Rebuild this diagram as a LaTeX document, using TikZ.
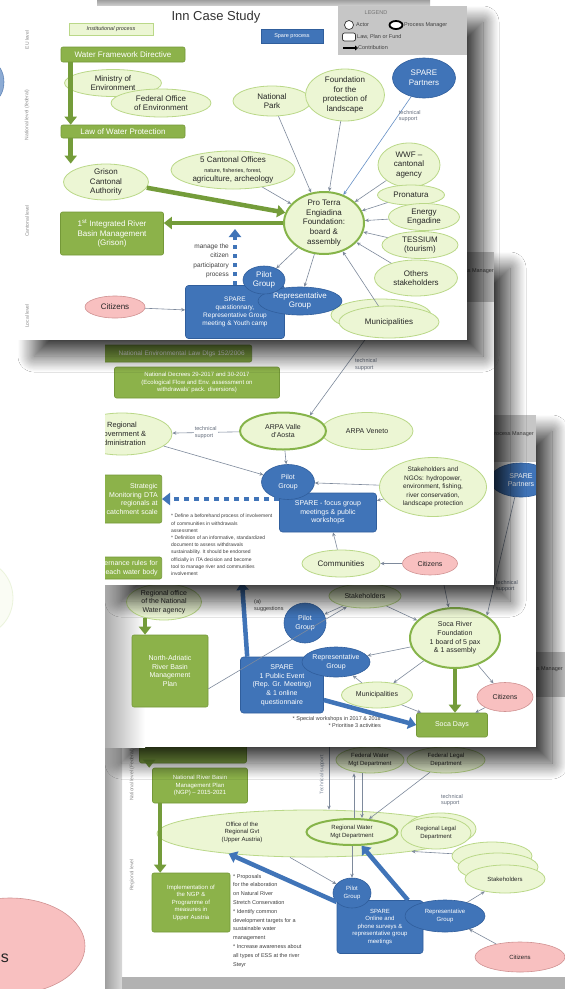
\documentclass[tikz,border=0pt]{standalone}
\usepackage{fontspec}
\setmainfont{Liberation Sans}
\usetikzlibrary{shapes.geometric,arrows.meta,shadows.blur}

\definecolor{lawgreen}{RGB}{140,178,74}
\definecolor{lawedge}{RGB}{116,152,56}
\definecolor{actfill}{RGB}{236,246,212}
\definecolor{actedge}{RGB}{186,216,136}
\definecolor{mgredge}{RGB}{134,180,74}
\definecolor{spareblue}{RGB}{64,116,184}
\definecolor{spareedge}{RGB}{48,94,156}
\definecolor{citfill}{RGB}{248,192,192}
\definecolor{citedge}{RGB}{208,146,146}
\definecolor{linkgray}{RGB}{126,138,156}
\definecolor{arrgreen}{RGB}{116,156,58}
\definecolor{lvlgray}{RGB}{140,140,140}
\definecolor{legendgray}{RGB}{198,198,198}

\tikzset{
  dims/.style 2 args={minimum width=#1pt, minimum height=#2pt},
  actor/.style={ellipse, draw=actedge, fill=actfill, line width=0.8pt, inner xsep=-2pt, inner ysep=-4pt, align=center, text=black!85},
  manager/.style={actor, draw=mgredge, line width=2pt},
  spareactor/.style={ellipse, draw=spareedge, fill=spareblue, line width=0.6pt, inner xsep=-2pt, inner ysep=-4pt, align=center, text=white},
  citizen/.style={ellipse, draw=citedge, fill=citfill, line width=0.6pt, inner sep=0pt, align=center, text=black!85},
  law/.style={rectangle, rounded corners=2pt, draw=lawedge, fill=lawgreen, line width=0.6pt, inner sep=1pt, align=center, text=white},
  spare/.style={rectangle, rounded corners=3pt, draw=spareedge, fill=spareblue, line width=0.6pt, inner sep=1pt, align=center, text=white},
  link/.style={draw=linkgray, line width=0.6pt, -{Stealth[length=4pt,width=3.5pt]}},
  biggreen/.style={draw=arrgreen, line width=4.5pt, -{Triangle[length=8pt,width=12pt]}},
  bigblue/.style={draw=spareblue, line width=4.5pt, -{Triangle[length=8pt,width=12pt]}},
  lvl/.style={rotate=90, text=lvlgray, font=\fontsize{5}{6}\selectfont},
  note/.style={align=left, inner sep=0pt, text=black!75, font=\fontsize{5.5}{7.5}\selectfont},
  supp/.style={align=left, inner sep=0pt, text=linkgray!80!black, font=\fontsize{5.5}{6.5}\selectfont},
  legtxt/.style={anchor=west, inner sep=0pt, text=black!75, font=\fontsize{5.5}{6}\selectfont},
  slide/.style={fill=white, blur shadow={shadow xshift=16pt, shadow yshift=-16pt, shadow blur radius=16pt, shadow blur steps=30, shadow blur extra rounding=0pt, shadow opacity=75}},
}

\begin{document}
\begin{tikzpicture}[x=1pt,y=-1pt]
\fill[white, use as bounding box] (0,0) rectangle (565,989);

% what shows of the slides behind
\node[citizen, dims={150}{96}] (bigCit) at (10,946) {};
\node[font=\fontsize{16}{16}\selectfont, text=black!85] (bigCitTxt) at (5,958) {s};
\node[actor, dims={70}{75}, opacity=0.25] (bigActor) at (-22,598) {};
\node[spareactor, dims={24}{38}, opacity=0.6] (bigSpare) at (-8,82) {};
\shade[top color=gray!75, bottom color=gray!35] (97,0) rectangle (430,6);

% Upper Austria
\path[slide] (105,652) rectangle (575,995);
\shade[left color=gray!75, right color=gray!30] (105,652) rectangle (122,989);
\fill[gray!60] (122,977) rectangle (575,989);
\begin{scope}[font=\fontsize{6}{7.5}\selectfont]
\clip (122,652) rectangle (575,977);
\node[fill=legendgray, anchor=north east, dims={100}{45}, inner sep=0pt] (austLegend) at (575,652) {};
\node[legtxt, anchor=east] (austLegendTxt) at (563,669) {Process Manager};
\node[lvl] (austNat) at (132,775) {National level (Federal)};
\node[lvl] (austReg) at (132,875) {Regional level};
\node[law, dims={107}{30}] (austTop) at (193,748) {};
\node[law, dims={95}{35}] (NGP) at (200,785.5) {National River Basin\\Management Plan\\(NGP) – 2015-2021};
\node[law, dims={78}{59}] (ImplNGP) at (191,902.5) {Implementation of\\the NGP \&\\Programme of\\measures in\\Upper Austria};
\node[actor, dims={306}{47}] (OfficeGvt) at (310,833.5) {};
\node[align=center, text=black!85] (OfficeTxt) at (242,832) {Office of the\\Regional Gvt\\(Upper Austria)};
\node[actor, dims={68}{26}] (FedWater) at (370,760) {Federal Water\\Mgt Department};
\node[actor, dims={78}{26}] (FedLegal) at (446,760) {Federal Legal\\Department};
\node[manager, dims={91}{26}] (RegWater) at (352,832) {Regional Water\\Mgt Department};
\node[actor, dims={70}{32}] (RegLegalBack) at (441,829) {};
\node[actor, dims={70}{32}] (RegLegal) at (436,833) {Regional Legal\\Department};
\node[actor, dims={80}{28}] (StakeD1) at (492,856) {};
\node[actor, dims={80}{28}] (StakeD2) at (498,867) {};
\node[actor, dims={80}{28}] (StakeD) at (505,879) {Stakeholders};
\node[spare, dims={86}{53}] (SpareOnline) at (380,927) {SPARE\\Online and\\phone surveys \&\\representative group\\meetings};
\node[spareactor, dims={38}{30}] (PilotD) at (352,893) {Pilot\\Group};
\node[spareactor, dims={80}{32}] (RepD) at (445,916) {Representative\\Group};
\node[citizen, dims={90}{30}] (CitizensD) at (520,957) {Citizens};
\node[note, anchor=north west, font=\fontsize{5.5}{8.8}\selectfont] (ProposalNote) at (233,874) {* Proposals\\for the elaboration\\on Natural River\\Stretch Conservation\\* Identify common\\development targets for a\\sustainable water\\management\\* Increase awareness about\\all types of ESS at the river\\Steyr};
\coordinate (techTop) at (329,740);
\node[lvl, text=linkgray] (techLbl) at (322,775) {Technical support};
\node[supp] (austSupp) at (452,800) {technical\\support};
\draw[biggreen] ([xshift=10pt]austTop.south west) -- ([xshift=10pt]austTop.south west |- NGP.north);
\draw[biggreen] ([xshift=8pt]NGP.south west) -- ([xshift=8pt]NGP.south west |- ImplNGP.north);
\draw[bigblue] (SpareOnline.150) -- (OfficeGvt.194);
\draw[bigblue] ([xshift=28pt]SpareOnline.north) -- (RegWater.-55);
\draw[link] (techTop) -- (techTop |- OfficeGvt.north);
\draw[link] ([xshift=-8pt]FedWater.south) -- ([xshift=-8pt]FedWater.south |- RegWater.north);
\draw[link] ([xshift=2pt]RegWater.north) -- ([xshift=2pt]RegWater.north |- FedWater.south);
\draw (FedLegal) edge[link] (RegWater);
\draw (RegWater) edge[link] (PilotD);
\draw ([xshift=-20pt]OfficeGvt.south) edge[link] (PilotD);
\draw (StakeD1) edge[link] (OfficeGvt.-10);
\draw (CitizensD) edge[link] (RepD);
\draw (RepD) edge[link] (StakeD);
\end{scope}

% Soca
\path[slide] (105,415) rectangle (536,747);
\shade[left color=gray!65, right color=white] (105,415) rectangle (145,747);
\begin{scope}[font=\fontsize{7}{8.7}\selectfont]
\clip (105,415) rectangle (536,747);
\node[fill=legendgray, anchor=north east, dims={110}{47}, inner sep=0pt] (socaLegend) at (536,415) {};
\node[legtxt, anchor=east] (socaLegendTxt) at (534,434) {Process Manager};
\node[spareactor, dims={62}{34}] (SpPartnersC) at (521,480) {SPARE\\Partners};
\node[actor, dims={75}{36}] (RegOffice) at (164,602) {Regional office\\of the National\\Water agency};
\node[law, dims={76}{72}] (NAdriatic) at (170,671) {North-Adriatic\\River Basin\\Management\\Plan};
\node[actor, dims={72}{24}] (StakeC) at (365,596) {Stakeholders};
\node[note, anchor=north west] (SuggNote) at (254,599) {(a)\\suggestions};
\node[spare, dims={83}{56}] (SparePE) at (282,685) {SPARE\\1 Public Event\\(Rep. Gr. Meeting)\\\& 1 online\\questionnaire};
\node[spareactor, dims={68}{30}] (RepC) at (336,662) {Representative\\Group};
\node[spareactor, dims={42}{40}] (PilotC) at (305,623) {Pilot\\Group};
\node[manager, dims={90}{60}] (SocaFound) at (455,638) {Soca River\\Foundation\\1 board of 5 pax\\\& 1 assembly};
\node[actor, dims={71}{26}] (MunC) at (377,695) {Municipalities};
\node[citizen, dims={56}{29}] (CitizensC) at (505,697) {Citizens};
\node[law, dims={71}{24}] (SocaDays) at (452,725) {Soca Days};
\node[note, align=right, anchor=north east] (WorkNote) at (381,716) {* Special workshops in 2017 \& 2018\\* Prioritise 3 activities};
\coordinate (socaTop) at (444,585);
\coordinate (suggTip) at (242,582);
\draw (NAdriatic.-25) edge[link] (StakeC);
\draw (StakeC) edge[link] (PilotC);
\draw (StakeC) edge[link] (SocaFound);
\draw (socaTop) edge[link] (SocaFound);
\draw (SpPartnersC.250) edge[link] node[pos=0.75, right=2pt, supp] {technical\\support} (SocaFound.35);
\draw (SocaFound) edge[link] (RepC);
\draw (SocaFound) edge[link] (MunC);
\draw (MunC) edge[link] (RepC);
\draw (MunC) edge[link] (SocaDays);
\draw (CitizensC) edge[link] (SocaDays);
\draw (SocaFound) edge[link] (CitizensC);
\draw[biggreen] (RegOffice.220) -- (RegOffice.220 |- NAdriatic.north);
\draw[bigblue] ([xshift=7pt]SparePE.north west) -- (suggTip);
\draw[bigblue] ([yshift=-15pt]SparePE.east) -- (SocaDays.west);
\draw[biggreen] (SocaFound.south) -- (SocaFound.south |- SocaDays.north);
\end{scope}

% Valle d'Aosta
\path[slide] (105,252) rectangle (494,585);
\begin{scope}[font=\fontsize{7}{8.5}\selectfont]
\clip (105,252) rectangle (494,585);
\node[fill=legendgray, anchor=north east, dims={120}{50}, inner sep=0pt] (arpaLegend) at (494,252) {};
\node[legtxt, anchor=east] (arpaLegendTxt) at (494,271) {Process Manager};
\node[law, anchor=east, dims={200}{17}, text width=186pt, align=right, font=\fontsize{6.5}{7.5}\selectfont] (EnvLaw) at (252,353.5) {National Environmental Law Dlgs 152/2006};
\node[law, dims={165}{31}, font=\fontsize{6}{7.5}\selectfont] (Decrees) at (197,382.5) {National Decrees 29-2017 and 30-2017\\(Ecological Flow and Env. assessment on\\withdrawals' pack. diversions)};
\node[actor, dims={100}{42}, font=\fontsize{7.5}{9}\selectfont] (RegGov) at (122,434) {Regional\\Government \&\\Administration};
\node[actor, dims={92}{37}] (ArpaVen) at (367,431) {ARPA Veneto};
\node[manager, dims={86}{37}] (ArpaVda) at (283,431) {ARPA Valle\\d'Aosta};
\node[spare, dims={97}{39}] (SpareFocus) at (328,512.5) {SPARE - focus group\\meetings \& public\\workshops};
\node[spareactor, dims={53}{35}] (PilotB) at (288,482) {Pilot\\Group};
\node[actor, dims={107}{59}, font=\fontsize{6.5}{8.5}\selectfont] (StakeNgo) at (433,487) {Stakeholders and\\NGOs: hydropower,\\environment, fishing,\\river conservation,\\landscape protection};
\node[actor, dims={78}{27}, font=\fontsize{8}{9}\selectfont] (Communities) at (341,563.5) {Communities};
\node[citizen, dims={55}{23}] (CitizensB) at (430,563.5) {Citizens};
\node[law, anchor=east, dims={100}{48}, text width=92pt, align=right] (StratBox) at (162,499) {Strategic\\Monitoring DTA\\regionals at\\catchment scale};
\node[law, anchor=east, dims={100}{22}, text width=92pt, align=right] (RulesBox) at (162,568) {Governance rules for\\each water body};
\node[note, anchor=north west, font=\fontsize{5}{7.2}\selectfont] (DefineNote) at (171,514) {* Define a beforehand process of involvement\\of communities in withdrawals\\assessment\\* Definition of an informative, standardized\\document to assess withdrawals\\sustainability. It should be endorsed\\officially in ITA decision and become\\tool to manage river and communities\\involvement};
\coordinate (arpaSupp) at (394,300);
\draw[bigblue, dash pattern=on 5pt off 5pt] (SpareFocus.west |- StratBox.east) -- (StratBox.east);
\draw (arpaSupp) edge[link] node[pos=0.56, right=8pt, supp] {technical\\support} (ArpaVda.30);
\draw (ArpaVda) edge[link] node[midway, supp, fill=white, inner sep=1pt] {technical\\support} (RegGov);
\draw (RegGov) edge[link] (PilotB);
\draw (ArpaVda) edge[link] (PilotB);
\draw (StakeNgo) edge[link] (PilotB);
\draw (StakeNgo) edge[link] (SpareFocus);
\draw (Communities) edge[link] (SpareFocus);
\draw (CitizensB) edge[link] (Communities);
\end{scope}

% Inn
\path[slide] (18,6) rectangle (467,340);
\begin{scope}[font=\fontsize{8}{9.6}\selectfont]
\clip (18,6) rectangle (467,340);
\node[lvl] (innEU) at (27,40) {EU level};
\node[lvl] (innNat) at (27,115) {National level (federal)};
\node[lvl] (innCant) at (27,221) {Cantonal level};
\node[lvl] (innLoc) at (27,316) {Local level};
\node[law, fill=actfill, draw=actedge, text=black!80, rounded corners=0pt, dims={84}{12}, font=\fontsize{5.5}{6}\selectfont\itshape] (innInst) at (111,29) {Institutional process};
\node[font=\fontsize{13}{15}\selectfont, text=black!80] (innTitle) at (216,17) {Inn Case Study};
\node[spare, rounded corners=0pt, dims={62}{14}, font=\fontsize{5.5}{6}\selectfont] (innSpareKey) at (292,36) {Spare process};
\node[fill=legendgray, anchor=north west, dims={129}{49}, inner sep=0pt] (innLegend) at (338,6) {};
\node[legtxt, anchor=center, text=black!55] (legTitle) at (376,13) {LEGEND};
\node[circle, draw=black!80, fill=white, line width=0.7pt, minimum size=9pt, inner sep=0pt] (legActor) at (349,25) {};
\node[legtxt] (legActorTxt) at (356,25) {Actor};
\node[ellipse, draw=black, fill=white, line width=1.8pt, dims={13}{8}, inner sep=0pt] (legMgr) at (396,25) {};
\node[legtxt] (legMgrTxt) at (404,25) {Process Manager};
\node[rectangle, rounded corners=2pt, draw=black!80, fill=white, line width=0.7pt, dims={13}{8}, inner sep=0pt] (legLaw) at (349,37) {};
\node[legtxt] (legLawTxt) at (357,37) {Law, Plan or Fund};
\coordinate (legArrFrom) at (343,48);
\node[legtxt] (legArrTxt) at (358,48) {Contribution};
\draw[line width=1.5pt, -{Triangle[length=3pt,width=5pt]}] (legArrFrom) -- (legArrTxt.west);

\node[law, dims={124}{15}] (WFD) at (123,54.5) {Water Framework Directive};
\node[actor, dims={97}{27}] (Ministry) at (113,83) {Ministry of\\Environment};
\node[actor, dims={100}{28}] (FedOffice) at (161,103) {Federal Office\\of Environment};
\node[law, dims={124}{13}] (LawWP) at (123,131.5) {Law of Water Protection};
\node[actor, dims={85}{36}] (Grison) at (106,182) {Grison\\Cantonal\\Authority};
\node[law, dims={103}{43}] (IRBM) at (112,233.5) {1\textsuperscript{st} Integrated River\\Basin Management\\(Grison)};
\node[actor, dims={78}{30}] (NatPark) at (272,101) {National\\Park};
\node[actor, dims={79}{52}] (Foundation) at (345,95) {Foundation\\for the\\protection of\\landscape};
\node[spareactor, dims={63}{40}] (SpPartners) at (424,78) {SPARE\\Partners};
\node[actor, dims={124}{38}] (CantOff) at (233,170) {5 Cantonal Offices\\\fontsize{5.5}{6.5}\selectfont nature, fisheries, forest,\\agriculture, archeology};
\node[actor, dims={62}{44}] (WWF) at (409,165) {WWF –\\cantonal\\agency};
\node[actor, dims={67}{20}] (Pronatura) at (411,195) {Pronatura};
\node[actor, dims={71}{27}] (Energy) at (424,217) {Energy\\Engadine};
\node[actor, dims={76}{27}] (Tessium) at (420,245) {TESSIUM\\(tourism)};
\node[actor, dims={83}{36}] (Others) at (416,278) {Others\\stakeholders};
\node[actor, dims={100}{32}] (MunBack) at (381,315) {};
\node[actor, dims={100}{32}] (Municip) at (389,322) {Municipalities};
\node[manager, dims={80}{62}] (ProTerra) at (324,223) {Pro Terra\\Engiadina\\Foundation:\\board \&\\assembly};
\node[spare, dims={99}{53}, font=\fontsize{6.5}{8}\selectfont] (SpareQ) at (235,312) {SPARE\\questionnary,\\Representative Group\\meeting \& Youth camp};
\node[spareactor, dims={84}{28}] (RepGroup) at (300,301) {Representative\\Group};
\node[spareactor, dims={42}{28}] (PilotGroup) at (264,280) {Pilot\\Group};
\node[citizen, dims={60}{22}] (CitizensA) at (115,307) {Citizens};
\node[note, align=right, anchor=east, font=\fontsize{6.5}{9.5}\selectfont] (manageNote) at (229,261) {manage the\\citizen\\participatory\\process};
\coordinate (manageTip) at (235,229);

\draw (NatPark) edge[link] (ProTerra);
\draw (Foundation) edge[link] (ProTerra);
\draw (SpPartners) edge[link, draw=spareblue!80] node[pos=0.2, right=1pt, supp] {technical\\support} (ProTerra);
\draw (CantOff) edge[link] (ProTerra);
\draw (WWF) edge[link] (ProTerra);
\draw (Pronatura) edge[link] (ProTerra);
\draw (Energy) edge[link] (ProTerra);
\draw (Tessium) edge[link] (ProTerra);
\draw (Others) edge[link] (ProTerra);
\draw (Municip) edge[link] (ProTerra);
\draw (ProTerra) edge[link] (PilotGroup);
\draw (ProTerra) edge[link] (RepGroup);
\draw (CitizensA) edge[link] (SpareQ);
\draw[biggreen] ([xshift=10pt]WFD.south west) -- ([xshift=10pt]LawWP.north west);
\draw[biggreen] ([xshift=10pt]LawWP.south west) -- ([xshift=10pt]LawWP.south west |- Grison.north);
\draw[biggreen] (Grison.-8) -- (ProTerra.165);
\draw[biggreen] (ProTerra.west) -- (ProTerra.west -| IRBM.east);
\draw[bigblue, dash pattern=on 4pt off 5pt] (SpareQ.north) -- (manageTip);
\end{scope}
\end{tikzpicture}
\end{document}
